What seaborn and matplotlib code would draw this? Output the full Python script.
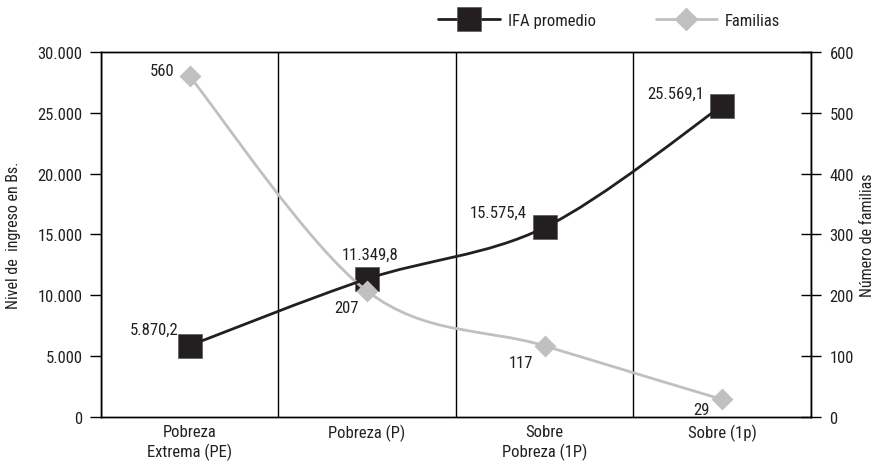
import numpy as np
import matplotlib
matplotlib.use("Agg")
import matplotlib.pyplot as plt
import seaborn as sns
from matplotlib.path import Path
from matplotlib.patches import PathPatch
from matplotlib.lines import Line2D
from matplotlib.ticker import FuncFormatter, FixedLocator

categories = ["Pobreza\nExtrema (PE)", "Pobreza (P)", "Sobre\nPobreza (1P)", "Sobre (1p)"]
ifaPromedio = [5870.2, 11349.8, 15575.4, 25569.1]
familias = [560, 207, 117, 29]
ifaLabels = ["5.870,2", "11.349,8", "15.575,4", "25.569,1"]
familiasLabels = ["560", "207", "117", "29"]

# label offsets in points (dx, dy), ha
ifaOffsets = [(-8, 12, "right"), (2, 18, "center"), (-13, 11, "right"), (-13, 9, "right")]
famOffsets = [(-11, 4, "right"), (-6, -12, "right"), (-8, -12, "right"), (-9, -7, "right")]

sns.set_theme(style="white")
plt.rcParams["font.family"] = ["Roboto Condensed", "Archivo Narrow", "DejaVu Sans"]
plt.rcParams["font.size"] = 12

textColor = "#231f20"
greyColor = "#c0c0c0"
blackColor = "#231f20"


def smoothPath(xs, ys):
    # Excel-style smoothed line as cubic bezier segments
    pts = np.column_stack([xs, ys]).astype(float)
    n = len(pts)
    verts = [pts[0]]
    codes = [Path.MOVETO]
    for i in range(n - 1):
        p0 = pts[max(i - 1, 0)]
        p1 = pts[i]
        p2 = pts[i + 1]
        p3 = pts[min(i + 2, n - 1)]
        c1 = p1 + (p2 - p0) / 6.0
        c2 = p2 - (p3 - p1) / 6.0
        verts += [c1, c2, p2]
        codes += [Path.CURVE4] * 3
    return Path(verts, codes)


fig = plt.figure(figsize=(8.92, 4.64), dpi=100)
ax = fig.add_axes([0.113, 0.099, 0.796, 0.787])
ax2 = ax.twinx()

xPos = np.arange(len(categories))

# IFA markers on left axis
sns.scatterplot(x=xPos, y=ifaPromedio, ax=ax, marker="s", s=290,
                color=blackColor, edgecolor="#5a5a5a", linewidth=0.5, zorder=3)

# Familias curve + markers on right axis
ax2.add_patch(PathPatch(smoothPath(xPos, familias), facecolor="none",
                        edgecolor=greyColor, lw=2.0, zorder=2))
sns.scatterplot(x=xPos, y=familias, ax=ax2, marker="D", s=125,
                color=greyColor, edgecolor=greyColor, linewidth=0, zorder=3)
# IFA curve drawn on top, in left-axis coordinates
ax2.add_patch(PathPatch(smoothPath(xPos, ifaPromedio), facecolor="none",
                        edgecolor=blackColor, lw=2.0, zorder=4,
                        transform=ax.transData))

for x, v, lab, (dx, dy, ha) in zip(xPos, ifaPromedio, ifaLabels, ifaOffsets):
    ax2.annotate(lab, xy=(x, v), xycoords=ax.transData, xytext=(dx, dy),
                 textcoords="offset points", ha=ha, va="center",
                 color=textColor, fontsize=12, zorder=6)
for x, v, lab, (dx, dy, ha) in zip(xPos, familias, familiasLabels, famOffsets):
    ax2.annotate(lab, xy=(x, v), xytext=(dx, dy), textcoords="offset points",
                 ha=ha, va="center", color=textColor, fontsize=12, zorder=6)

# axes limits and ticks
ax.set_xlim(-0.5, len(categories) - 0.5)
ax.set_ylim(0, 30000)
ax2.set_ylim(0, 600)
ax.set_yticks(np.arange(0, 30001, 5000))
ax.yaxis.set_major_formatter(FuncFormatter(lambda v, p: f"{int(v):,}".replace(",", ".")))
ax2.set_yticks(np.arange(0, 601, 100))

ax.set_xticks(xPos)
ax.set_xticklabels(categories, color=textColor, fontsize=12, linespacing=1.25)
ax.xaxis.set_minor_locator(FixedLocator(np.arange(-0.5, len(categories), 1.0)))
ax.tick_params(axis="x", which="major", length=0, pad=5)
ax.tick_params(axis="x", which="minor", length=4, width=1.0, color="black", direction="out")
ax.grid(axis="x", which="minor", color="black", lw=1.0)
ax.grid(axis="y", visible=False)
ax2.grid(False)

ax.tick_params(axis="y", length=8, width=1.0, color="black", direction="out",
               pad=5, labelcolor=textColor, labelsize=12, left=True)
ax2.tick_params(axis="y", length=15, width=1.0, color="black", direction="inout",
                pad=6, labelcolor=textColor, labelsize=12, right=True)

for a in (ax, ax2):
    for sp in a.spines.values():
        sp.set_color("black")
        sp.set_linewidth(1.0)
        sp.set_visible(True)

ax.set_ylabel("Nivel de  ingreso en Bs.", color=textColor, fontsize=11.5)
ax.yaxis.set_label_coords(-0.113, 0.5)
ax2.set_ylabel("Número de familias", color=textColor, fontsize=11.5)
ax2.yaxis.set_label_coords(1.069, 0.5)

handles = [
    Line2D([], [], color=blackColor, lw=2.0, marker="s", markersize=17,
           markerfacecolor=blackColor, markeredgecolor="#5a5a5a", markeredgewidth=0.5),
    Line2D([], [], color=greyColor, lw=2.0, marker="D", markersize=11,
           markerfacecolor=greyColor, markeredgecolor=greyColor),
]
fig.legend(handles, ["IFA promedio", "Familias"], loc="center",
           bbox_to_anchor=(0.683, 0.953), ncol=2, frameon=False,
           handlelength=3.7, handletextpad=0.45, columnspacing=3.6,
           fontsize=12, labelcolor=textColor)

fig.savefig("out.png", dpi=100, facecolor="white")
